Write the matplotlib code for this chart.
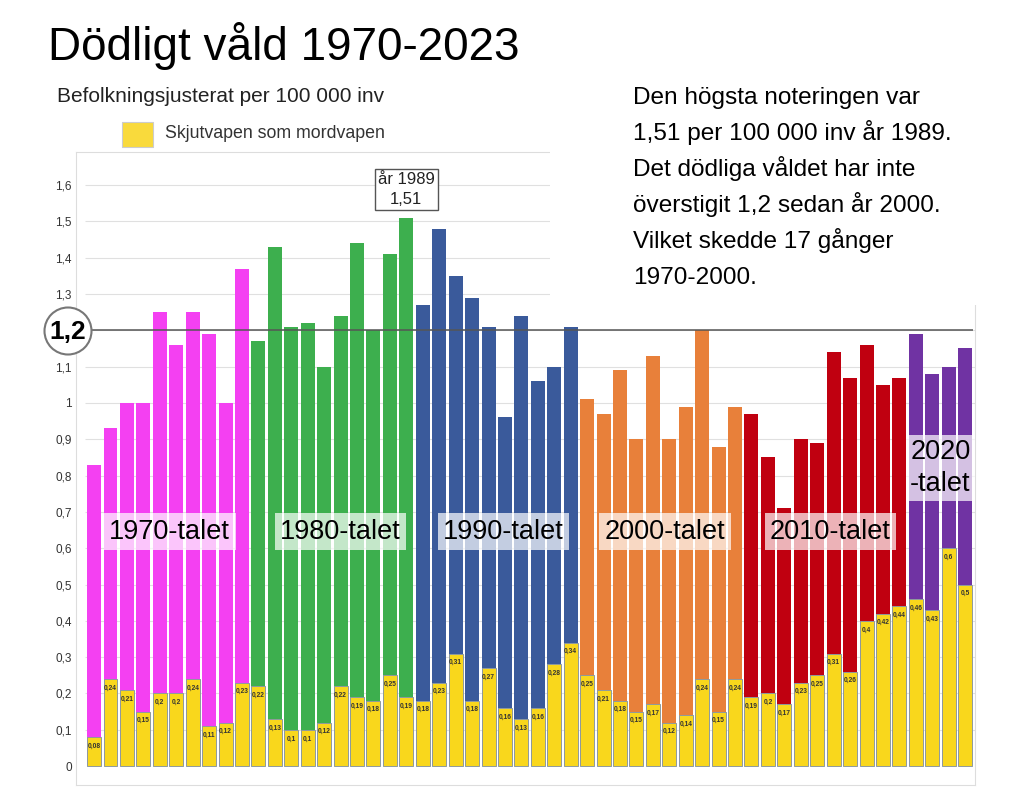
import numpy as np
import matplotlib
matplotlib.use("Agg")
import matplotlib.pyplot as plt
from matplotlib.patches import Rectangle, Ellipse

plt.rcParams['font.family'] = ['Liberation Sans', 'DejaVu Sans']

# data
years = np.arange(1970, 2024)
totals = [0.83, 0.93, 1.00, 1.00, 1.25, 1.16, 1.25, 1.19, 1.00, 1.37,
          1.17, 1.43, 1.21, 1.22, 1.10, 1.24, 1.44, 1.20, 1.41, 1.51,
          1.27, 1.48, 1.35, 1.29, 1.21, 0.96, 1.24, 1.06, 1.10, 1.21,
          1.01, 0.97, 1.09, 0.90, 1.13, 0.90, 0.99, 1.20, 0.88, 0.99,
          0.97, 0.85, 0.71, 0.90, 0.89, 1.14, 1.07, 1.16, 1.05, 1.07,
          1.19, 1.08, 1.10, 1.15]
firearm = [0.08, 0.24, 0.21, 0.15, 0.2, 0.2, 0.24, 0.11, 0.12, 0.23,
           0.22, 0.13, 0.1, 0.1, 0.12, 0.22, 0.19, 0.18, 0.25, 0.19,
           0.18, 0.23, 0.31, 0.18, 0.27, 0.16, 0.13, 0.16, 0.28, 0.34,
           0.25, 0.21, 0.18, 0.15, 0.17, 0.12, 0.14, 0.24, 0.15, 0.24,
           0.19, 0.2, 0.17, 0.23, 0.25, 0.31, 0.26, 0.4, 0.42, 0.44,
           0.46, 0.43, 0.6, 0.5]
decades = [1970, 1980, 1990, 2000, 2010, 2020]
decade_labels = ["1970-talet", "1980-talet", "1990-talet", "2000-talet", "2010-talet", "2020\n-talet"]
decade_colors = ["#F440F2", "#3DAF4E", "#3A5A9B", "#E8803A", "#C00010", "#7033A3"]
yticks = [0, 0.1, 0.2, 0.3, 0.4, 0.5, 0.6, 0.7, 0.8, 0.9, 1.0, 1.1, 1.3, 1.4, 1.5, 1.6]
threshold = 1.2
peak_year = 1989
note_lines = ["Den högsta noteringen var",
              "1,51 per 100 000 inv år 1989.",
              "Det dödliga våldet har inte",
              "överstigit 1,2 sedan år 2000.",
              "Vilket skedde 17 gånger",
              "1970-2000."]

W, H = 1024, 790
fig = plt.figure(figsize=(W / 100, H / 100), dpi=100)
ax = fig.add_axes([76 / W, 1 - 785 / H, (975 - 76) / W, (785 - 152) / H])

x = np.arange(len(years))
col_map = dict(zip(decades, decade_colors))
colors = [col_map[(y // 10) * 10] for y in years]

ax.hlines([t for t in yticks if t > 0] + [1.2], -0.55, len(years) - 0.4, color="#e0e0e0", lw=0.8, zorder=0)
ax.bar(x, totals, width=0.85, color=colors, zorder=2)
ax.bar(x, firearm, width=0.85, color="#F9D71C", edgecolor="#8e9a9e", linewidth=0.7, zorder=3)

for xi, v in zip(x, firearm):
    ax.annotate(f"{v:g}".replace(".", ","), (xi, v), xytext=(0, -4), textcoords="offset points",
                ha="center", va="top", fontsize=4.8, fontweight="bold", color="#333333", zorder=4)

# 1,2 line
ax.hlines(threshold, -0.12, len(years) - 0.55, color="#555555", lw=1.1, zorder=5)

ax.set_xlim(-1.1, len(years) - 0.4)
ax.set_ylim(-0.052, 1.691)
ax.set_xticks([])
ax.set_yticks(yticks)
ax.set_yticklabels([f"{t:g}".replace(".", ",") for t in yticks], fontsize=8.5, color="#333333")
ax.tick_params(axis="y", length=0, pad=3)
for s in ax.spines.values():
    s.set_color("#dddddd")
    s.set_linewidth(0.8)

# decade labels
offsets = [4.6, 5.0, 4.9, 4.75, 4.8, 1.5]
for d, lab, off in zip(decades, decade_labels, offsets):
    i0 = list(years).index(d)
    if d == 2020:
        ax.text(i0 + off, 0.821, lab, ha="center", va="center", fontsize=19.5, linespacing=1.3,
                bbox=dict(facecolor="white", alpha=0.7, edgecolor="none", boxstyle="square,pad=0.15"), zorder=6)
    else:
        ax.text(i0 + off, 0.645, lab, ha="center", va="center", fontsize=19.5,
                bbox=dict(facecolor="white", alpha=0.7, edgecolor="none", boxstyle="square,pad=0.2"), zorder=6)

# peak annotation
pi = list(years).index(peak_year)
ax.text(pi, 1.588, f"år {peak_year}\n{totals[pi]:.2f}".replace(".", ","), ha="center", va="center",
        fontsize=12, linespacing=1.4, color="#222222",
        bbox=dict(facecolor="white", edgecolor="#555555", lw=1, boxstyle="square,pad=0.2"), zorder=6)

# white area for text block
fig.patches.append(Rectangle((550 / W, 1 - 305 / H), 1 - 550 / W, (305 - 80) / H,
                             transform=fig.transFigure, facecolor="white", edgecolor="none", zorder=5))

# circle with 1,2
fig.patches.append(Ellipse((68 / W, 1 - 331 / H), 47 / W, 47 / H, transform=fig.transFigure,
                           facecolor="white", edgecolor="#777777", lw=1.5, zorder=6))
fig.text(68 / W, 1 - 332 / H, "1,2", ha="center", va="center", fontsize=19, fontweight="bold", zorder=7)

# titles
fig.text(48 / W, 1 - 46 / H, "Dödligt våld 1970-2023", fontsize=33, ha="left", va="center")
fig.text(57 / W, 1 - 97 / H, "Befolkningsjusterat per 100 000 inv", fontsize=15, ha="left", va="center", color="#222222")
fig.patches.append(Rectangle((122 / W, 1 - 147 / H), 31 / W, 25 / H, transform=fig.transFigure,
                             facecolor="#F9DA3C", edgecolor="#cccccc", lw=0.8, zorder=6))
fig.text(165 / W, 1 - 134 / H, "Skjutvapen som mordvapen", fontsize=12.8, ha="left", va="center", color="#333333")

for k, line in enumerate(note_lines):
    fig.text(633 / W, 1 - (104 + 36 * k) / H, line, fontsize=17.6, ha="left", va="baseline", zorder=7)

fig.savefig("out.png", dpi=100)
